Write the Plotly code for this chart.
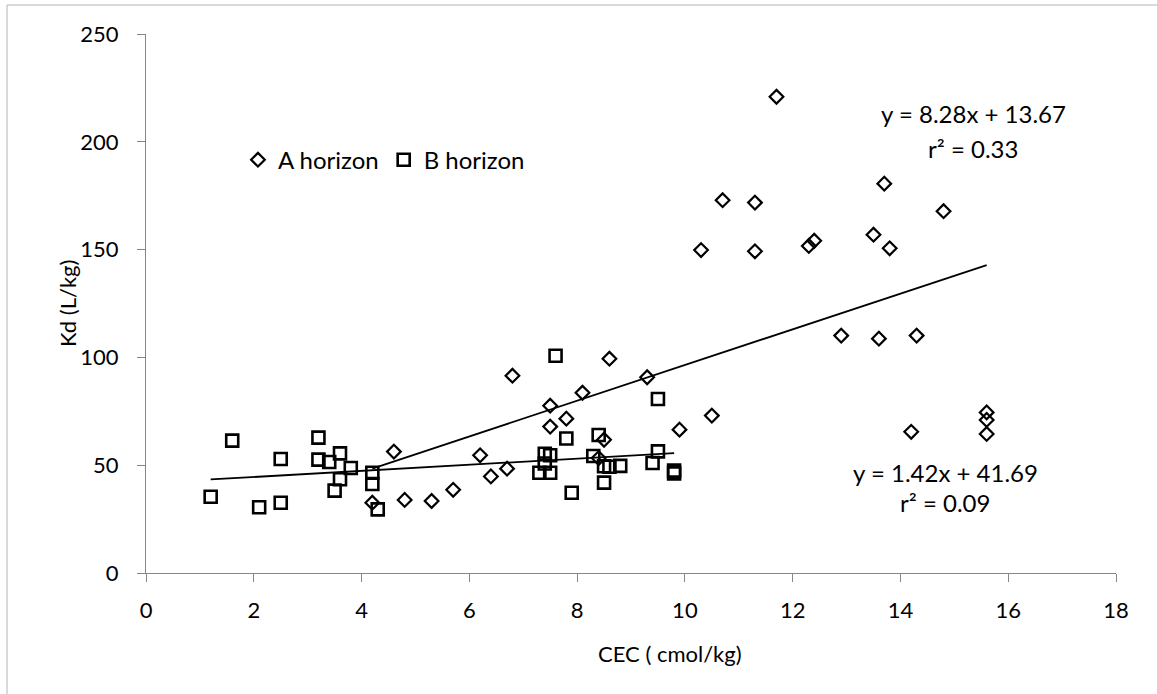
import plotly.graph_objects as go

# CEC (cmol/kg) and Kd (L/kg) for the A horizon samples
cec_a = [4.2, 4.6, 4.8, 5.3, 5.7, 6.2, 6.4, 6.7, 6.8, 7.5, 7.5, 7.8, 8.1, 8.4,
         8.5, 8.6, 9.3, 9.9, 10.3, 10.5, 10.7, 11.3, 11.3, 11.7, 12.3, 12.4,
         12.9, 13.5, 13.6, 13.7, 13.8, 14.2, 14.3, 14.8, 15.6, 15.6, 15.6]
kd_a = [32.6, 56.3, 33.9, 33.4, 38.6, 54.6, 44.8, 48.4, 91.5, 77.6, 67.9, 71.6,
        83.6, 53.3, 61.8, 99.4, 90.8, 66.5, 149.8, 73.0, 172.9, 171.8, 149.2,
        220.9, 151.7, 154.1, 110.1, 156.9, 108.7, 180.6, 150.6, 65.5, 110.1,
        167.8, 74.5, 71.0, 64.5]

# CEC (cmol/kg) and Kd (L/kg) for the B horizon samples
cec_b = [1.2, 1.6, 2.1, 2.5, 2.5, 3.2, 3.2, 3.4, 3.6, 3.5, 3.6, 3.8, 4.2, 4.2,
         4.3, 7.6, 9.5, 7.8, 8.4, 7.4, 7.5, 7.4, 7.3, 7.5, 7.9, 8.3, 8.5, 8.5,
         8.6, 8.8, 9.5, 9.4, 9.8, 9.8]
kd_b = [35.4, 61.4, 30.5, 52.9, 32.6, 62.8, 52.6, 51.5, 55.5, 38.2, 43.5, 48.7,
        46.5, 41.3, 29.5, 100.8, 80.7, 62.4, 64.0, 55.3, 54.6, 50.8, 46.5, 46.5,
        37.2, 54.3, 41.9, 49.5, 49.3, 49.7, 56.4, 51.0, 47.5, 46.2]

# Linear fits reported for each horizon
slope_a, intercept_a, r2_a = 8.28, 13.67, 0.33
slope_b, intercept_b, r2_b = 1.42, 41.69, 0.09

FONT = "Lato"
FS_TICK = 22
FS_TEXT = 24

fig = go.Figure()

fig.add_trace(go.Scatter(
    x=cec_a, y=kd_a, mode="markers", name="A horizon",
    marker=dict(symbol="diamond-open", size=10.5, color="black",
                line=dict(width=2.2, color="black")),
))
fig.add_trace(go.Scatter(
    x=cec_b, y=kd_b, mode="markers", name="B horizon",
    marker=dict(symbol="square-open", size=12, color="black",
                line=dict(width=2.6, color="black")),
))

# Trend lines over each series' CEC range
for xs, m, c in [(cec_a, slope_a, intercept_a), (cec_b, slope_b, intercept_b)]:
    x0, x1 = min(xs), max(xs)
    fig.add_trace(go.Scatter(
        x=[x0, x1], y=[m * x0 + c, m * x1 + c], mode="lines",
        line=dict(color="black", width=1.8), showlegend=False, hoverinfo="skip",
    ))

annotations = [
    dict(x=15.35, y=212.9, text=f"y = {slope_a:.2f}x + {intercept_a:.2f}"),
    dict(x=15.35, y=196.7, text=f"r² = {r2_a:.2f}"),
    dict(x=14.83, y=46.8, text=f"y = {slope_b:.2f}x + {intercept_b:.2f}"),
    dict(x=14.83, y=32.5, text=f"r² = {r2_b:.2f}"),
]
for a in annotations:
    a.update(xref="x", yref="y", showarrow=False, xanchor="center",
             yanchor="middle", font=dict(family=FONT, size=FS_TEXT, color="black"))

annotations += [
    dict(x=0.540, y=-0.150, xref="paper", yref="paper", text="CEC ( cmol/kg)",
         showarrow=False, xanchor="center", yanchor="middle",
         font=dict(family=FONT, size=FS_TICK, color="black")),
    dict(x=-0.0814, y=0.499, xref="paper", yref="paper", text="Kd (L/kg)",
         textangle=-90, showarrow=False, xanchor="center", yanchor="middle",
         font=dict(family=FONT, size=FS_TICK, color="black")),
]

axis_common = dict(
    showgrid=False, zeroline=False, showline=True, linecolor="#868686",
    linewidth=1, ticks="outside", ticklen=8, tickcolor="#868686",
    tickfont=dict(family=FONT, size=FS_TICK, color="black"),
)

fig.update_layout(
    width=1157, height=694,
    margin=dict(l=146, r=41, t=34, b=121),
    paper_bgcolor="white", plot_bgcolor="white",
    xaxis=dict(range=[0, 18], dtick=2, tick0=0, ticklabelstandoff=10, **axis_common),
    yaxis=dict(range=[0, 250], dtick=50, tick0=0, ticklabelstandoff=14, **axis_common),
    legend=dict(orientation="h", x=0.0948, y=0.766, xanchor="left", yanchor="middle",
                font=dict(family=FONT, size=FS_TEXT, color="black"),
                bgcolor="rgba(0,0,0,0)", itemwidth=30, tracegroupgap=0),
    annotations=annotations,
    shapes=[dict(type="rect", xref="paper", yref="paper",
                 x0=(7 - 146) / 970, x1=2.0, y0=-1.0, y1=(573 - 5) / 539,
                 line=dict(color="#b4b4b4", width=1), layer="below")],
    showlegend=True,
)

fig.write_html("out.html")
